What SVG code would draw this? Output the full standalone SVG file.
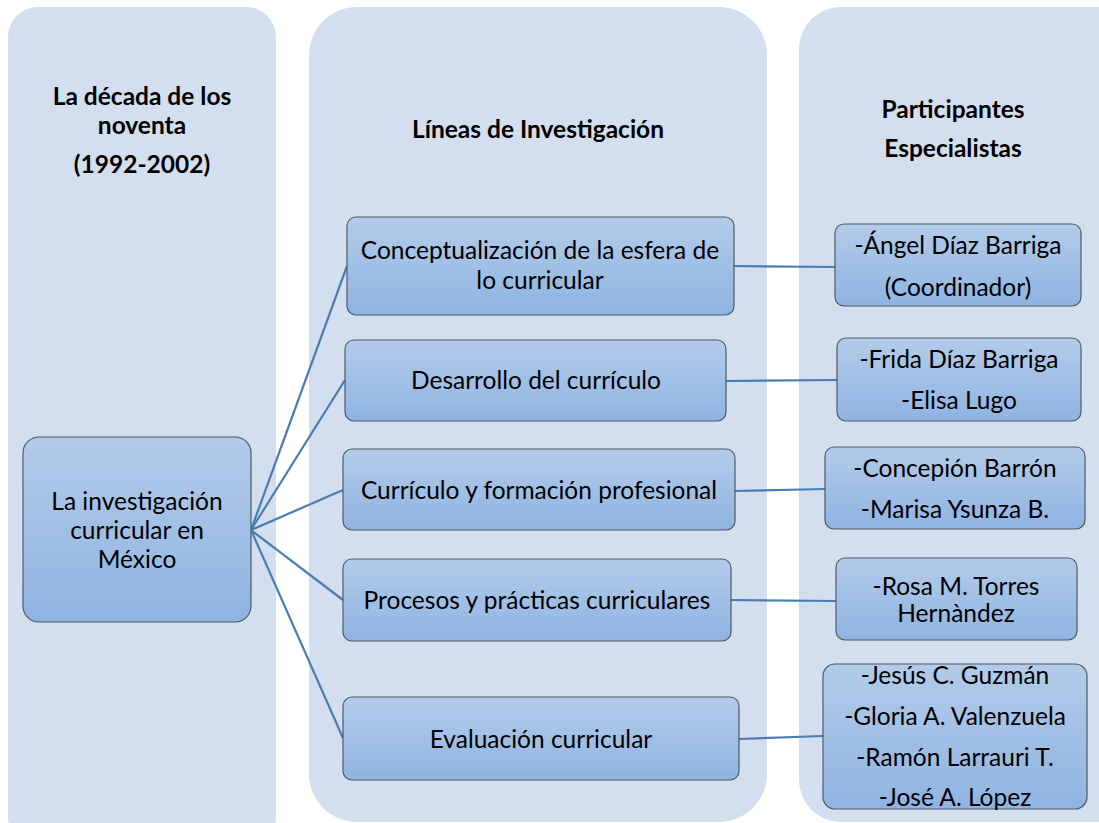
<svg xmlns="http://www.w3.org/2000/svg" width="1099" height="823" viewBox="0 0 1099 823">
<defs>
<linearGradient id="g" x1="0" y1="0" x2="0" y2="1">
<stop offset="0" stop-color="#B3CBE9"/>
<stop offset="1" stop-color="#8FB4E2"/>
</linearGradient>
</defs>
<style>
.col{fill:#D3DEEF}
.box{fill:url(#g);stroke:#505A66;stroke-width:1.2}
.t{font-family:Lato,"Open Sans",sans-serif;font-size:24.5px;fill:#000;text-anchor:middle}
.h{font-family:Lato,"Open Sans",sans-serif;font-size:24.5px;font-weight:bold;fill:#000;text-anchor:middle}
.c{stroke:#4A7EB2;stroke-width:2.2;fill:none}
</style>
<rect width="1099" height="823" fill="#fff"/>
<g id="columns">
<rect class="col" x="8" y="7" width="268" height="840" rx="30"/>
<rect class="col" x="309" y="7" width="458" height="815" rx="48"/>
<rect class="col" x="799" y="7" width="340" height="815" rx="42"/>
</g>
<g id="headers">
<text class="h" x="142" y="105">La década de los</text>
<text class="h" x="142" y="134">noventa</text>
<text class="h" x="142" y="173">(1992-2002)</text>
<text class="h" x="538" y="138">Líneas de Investigación</text>
<text class="h" x="953" y="118">Participantes</text>
<text class="h" x="953" y="157">Especialistas</text>
</g>
<g id="connectors">
<line class="c" x1="251" y1="530" x2="347" y2="266"/>
<line class="c" x1="251" y1="530" x2="345" y2="380"/>
<line class="c" x1="251" y1="530" x2="343" y2="490"/>
<line class="c" x1="251" y1="530" x2="343" y2="600"/>
<line class="c" x1="251" y1="530" x2="343" y2="738"/>
<line class="c" x1="734" y1="266" x2="835" y2="267"/>
<line class="c" x1="726" y1="381" x2="837" y2="380"/>
<line class="c" x1="735" y1="491" x2="825" y2="489"/>
<line class="c" x1="731" y1="600" x2="836" y2="601"/>
<line class="c" x1="739" y1="739" x2="823" y2="736"/>
</g>
<g id="main">
<rect class="box" x="23" y="437" width="228" height="185" rx="16"/>
<text class="t" x="137" y="510">La investigación</text>
<text class="t" x="137" y="539">curricular en</text>
<text class="t" x="137" y="568">México</text>
</g>
<g id="linea1">
<rect class="box" x="347" y="217" width="387" height="98" rx="9"/>
<text class="t" x="540" y="259">Conceptualización de la esfera de</text>
<text class="t" x="540" y="289">lo curricular</text>
</g>
<g id="linea2">
<rect class="box" x="345" y="340" width="381" height="81" rx="9"/>
<text class="t" x="536" y="389">Desarrollo del currículo</text>
</g>
<g id="linea3">
<rect class="box" x="343" y="449" width="392" height="81" rx="9"/>
<text class="t" x="539" y="499">Currículo y formación profesional</text>
</g>
<g id="linea4">
<rect class="box" x="343" y="559" width="388" height="82" rx="9"/>
<text class="t" x="537" y="609">Procesos y prácticas curriculares</text>
</g>
<g id="linea5">
<rect class="box" x="343" y="697" width="396" height="83" rx="9"/>
<text class="t" x="541" y="748">Evaluación curricular</text>
</g>
<g id="part1">
<rect class="box" x="835" y="224" width="246" height="82" rx="9"/>
<text class="t" x="958" y="254">-Ángel Díaz Barriga</text>
<text class="t" x="958" y="296">(Coordinador)</text>
</g>
<g id="part2">
<rect class="box" x="837" y="338" width="244" height="83" rx="9"/>
<text class="t" x="959" y="368">-Frida Díaz Barriga</text>
<text class="t" x="959" y="409">-Elisa Lugo</text>
</g>
<g id="part3">
<rect class="box" x="825" y="447" width="260" height="82" rx="9"/>
<text class="t" x="955" y="477">-Concepión Barrón</text>
<text class="t" x="955" y="518">-Marisa Ysunza B.</text>
</g>
<g id="part4">
<rect class="box" x="836" y="558" width="241" height="82" rx="9"/>
<text class="t" x="956" y="595">-Rosa M. Torres</text>
<text class="t" x="956" y="622">Hernàndez</text>
</g>
<g id="part5">
<rect class="box" x="823" y="664" width="264" height="145" rx="12"/>
<text class="t" x="955" y="684">-Jesús C. Guzmán</text>
<text class="t" x="955" y="725">-Gloria A. Valenzuela</text>
<text class="t" x="955" y="766">-Ramón Larrauri T.</text>
<text class="t" x="955" y="806">-José A. López</text>
</g>
</svg>
